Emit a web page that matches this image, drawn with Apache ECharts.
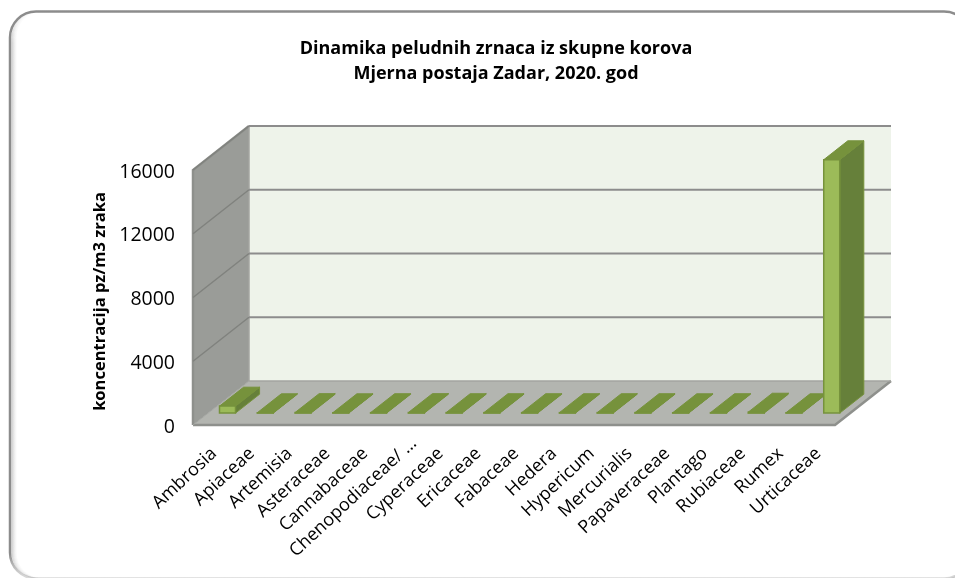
<!DOCTYPE html>
<html>
<head>
<meta charset="utf-8">
<style>html,body{margin:0;padding:0;background:#fff}#c{width:955px;height:578px}</style>
<script src="https://cdn.jsdelivr.net/npm/echarts@6/dist/echarts.min.js"></script>
</head>
<body>
<div id="c"></div>
<script>
const titleText = 'Dinamika peludnih zrnaca iz skupne korova\nMjerna postaja Zadar, 2020. god';
const yAxisName = 'koncentracija pz/m3 zraka';
const categories = ['Ambrosia','Apiaceae','Artemisia','Asteraceae','Cannabaceae','Chenopodiaceae/ \u2026','Cyperaceae','Ericaceae','Fabaceae','Hedera','Hypericum','Mercurialis','Papaveraceae','Plantago','Rubiaceae','Rumex','Urticaceae'];
const values = [440,25,35,25,30,35,30,30,30,30,30,30,25,30,60,25,15900];
const yTicks = [0,4000,8000,12000,16000];

const FONT = '"Open Sans", sans-serif';
const DX = 56, DY = 44;            // oblique depth of the 3D box, px
const BAR_W = 16;
const BAR_FRONT = 0.27, BAR_BACK = 0.70; // bar position within depth

const chart = echarts.init(document.getElementById('c'), null, {renderer:'canvas'});

function poly(points, fill, stroke, lw){
  return {type:'polygon', shape:{points}, style:{fill, stroke:stroke||null, lineWidth:lw||0}};
}
function renderWalls(params, api){
  const cs = params.coordSys;
  const xL = cs.x, xR = cs.x + cs.width;
  const y0 = api.coord([0, yTicks[0]])[1];
  const yT = api.coord([0, yTicks[yTicks.length-1]])[1];
  const edge = '#8e908c';
  const children = [
    poly([[xL+DX,yT-DY],[xR+DX,yT-DY],[xR+DX,y0-DY],[xL+DX,y0-DY]], '#eef3ea'),
    poly([[xL,yT],[xL+DX,yT-DY],[xL+DX,y0-DY],[xL,y0]], '#9a9c98'),
    poly([[xL,y0],[xR,y0],[xR+DX,y0-DY],[xL+DX,y0-DY]], '#b3b5b0'),
    {type:'polyline', shape:{points:[[xL,y0],[xL,yT],[xL+DX,yT-DY]]}, style:{fill:null, stroke:edge, lineWidth:2.5}},
    {type:'polyline', shape:{points:[[xL,y0],[xR,y0],[xR+DX,y0-DY]]}, style:{fill:null, stroke:edge, lineWidth:2.5}},
    {type:'line', shape:{x1:xL+DX,y1:y0-DY,x2:xL+DX,y2:yT-DY}, style:{stroke:'#a3a5a1', lineWidth:1.5}},
    {type:'line', shape:{x1:xL+DX,y1:y0-DY,x2:xR+DX,y2:y0-DY}, style:{stroke:'#a3a5a1', lineWidth:1.5}},
    {type:'line', shape:{x1:xL+DX,y1:y0-DY,x2:xL,y2:y0}, style:{stroke:'#a3a5a1', lineWidth:1}}
  ];
  return {type:'group', children};
}
function renderGrid(params, api){
  const cs = params.coordSys;
  const xL = cs.x, xR = cs.x + cs.width;
  const y = api.coord([0, api.value(0)])[1];
  return {type:'group', children:[
    {type:'line', shape:{x1:xL,y1:y,x2:xL+DX,y2:y-DY}, style:{stroke:'#80827e', lineWidth:1.5}},
    {type:'line', shape:{x1:xL+DX,y1:y-DY,x2:xR+DX,y2:y-DY}, style:{stroke:'#8c8c8c', lineWidth:2.2}}
  ]};
}
function renderBar(params, api){
  const idx = api.value(0), v = api.value(1);
  const base = api.coord([idx, 0]), top = api.coord([idx, v]);
  const xl = base[0] + BAR_FRONT*DX - BAR_W/2 + 0.5, xr = xl + BAR_W;
  const yb = base[1] - BAR_FRONT*DY, yt = yb - (base[1]-top[1]);
  const ddx = (BAR_BACK-BAR_FRONT)*DX, ddy = (BAR_BACK-BAR_FRONT)*DY;
  const line = '#76923c';
  return {type:'group', children:[
    poly([[xr,yb],[xr+ddx,yb-ddy],[xr+ddx,yt-ddy],[xr,yt]], '#66803a', line, 1),
    poly([[xl,yt],[xl+ddx,yt-ddy],[xr+ddx,yt-ddy],[xr,yt]], '#76923c', line, 1),
    poly([[xl,yb],[xr,yb],[xr,yt],[xl,yt]], '#9cbb59', line, 1.5)
  ]};
}
const frameStroke = {type:'linear',x:0,y:0,x2:0,y2:1,colorStops:[
  {offset:0,color:'#8c8c8c'},{offset:0.955,color:'#8c8c8c'},{offset:1,color:'rgba(190,190,190,0.5)'}]};
function glow(dx, alpha){
  return {type:'rect', z:-4, silent:true, shape:{x:10+dx,y:11.5,width:960,height:567,r:26},
    style:{fill:null, stroke:{type:'linear',x:0,y:0,x2:0,y2:1,colorStops:[
      {offset:0,color:'rgba(130,130,130,0)'},{offset:0.06,color:'rgba(130,130,130,'+alpha+')'},{offset:0.95,color:'rgba(130,130,130,'+alpha+')'},{offset:1,color:'rgba(170,170,170,'+(alpha/2)+')'}]}, lineWidth:1}};
}
const xTok = {fontFamily:FONT, fontSize:18, color:'#000'};

chart.setOption({
  animation:false,
  backgroundColor:'#ffffff',
  title:{
    text:titleText, left:491, top:31, textAlign:'center',
    textStyle:{fontFamily:FONT, fontWeight:'bold', fontSize:18, lineHeight:25, color:'#000'}
  },
  grid:{left:193, right:120, top:170, bottom:153, containLabel:false},
  xAxis:{
    type:'category', data:categories,
    axisLine:{show:false}, axisTick:{show:false}, splitLine:{show:false},
    axisLabel:{interval:0, rotate:43, margin:28, color:'#000', fontFamily:FONT, fontSize:18, hideOverlap:false,
      formatter:v=>v.indexOf('/')>=0 ? '{c|'+v+'}' : '{l|'+v+'}',
      rich:{l:Object.assign({padding:[0,-3,0,0]},xTok), c:Object.assign({padding:[0,-18,0,0]},xTok)}}
  },
  yAxis:{
    type:'value', min:0, max:16000, interval:4000,
    axisLine:{show:false}, axisTick:{show:false}, splitLine:{show:false},
    axisLabel:{margin:18, color:'#000', fontFamily:FONT, fontSize:19.5, showMinLabel:true, showMaxLabel:true,
      formatter:v=>'{t|'+v+'}',
      rich:{t:{fontFamily:FONT, fontSize:19.5, color:'#000', padding:[4,0,0,0]}}},
    name:yAxisName, nameLocation:'middle', nameGap:83, nameRotate:90,
    nameTextStyle:{fontFamily:FONT, fontWeight:'bold', fontSize:16.5, color:'#000', padding:[0,8,0,0]}
  },
  graphic:[
    {type:'rect', z:-5, silent:true, shape:{x:10,y:11.5,width:960,height:567,r:26},
      style:{fill:'#fff', stroke:frameStroke, lineWidth:2.5}},
    glow(2,.4), glow(3,.28), glow(4,.18), glow(5,.1), glow(6,.05)
  ],
  series:[
    {type:'custom', coordinateSystem:'cartesian2d', silent:true, z:1, data:[[0,0]], renderItem:renderWalls, clip:false},
    {type:'custom', coordinateSystem:'cartesian2d', silent:true, z:2, data:yTicks.slice(1).map(v=>[v]), encode:{y:0}, renderItem:renderGrid, clip:false},
    {type:'custom', coordinateSystem:'cartesian2d', silent:true, z:3, data:values.map((v,i)=>[i,v]), encode:{x:0,y:1}, renderItem:renderBar, clip:false}
  ]
});
</script>
</body>
</html>
